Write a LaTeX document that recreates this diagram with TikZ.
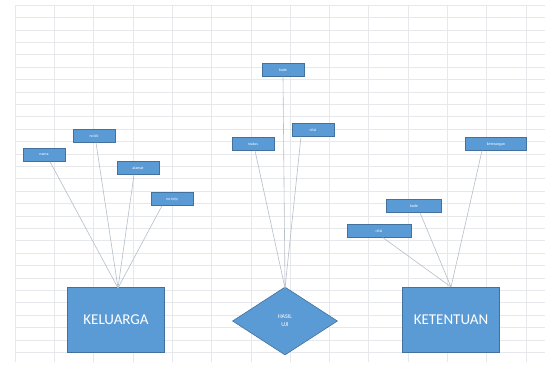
\documentclass[tikz,border=0pt]{standalone}
\usepackage{fontspec}
\setmainfont{Carlito}
\usetikzlibrary{shapes.geometric}
\definecolor{boxblue}{HTML}{5B9BD5}
\definecolor{boxedge}{HTML}{41719C}
\definecolor{gridc}{HTML}{E6E8EC}
\definecolor{linkc}{HTML}{B4BFCA}
\tikzset{
  entity/.style={draw=boxedge, line width=0.6pt, fill=boxblue, text=white, minimum width=97pt, minimum height=65pt, font=\fontsize{15}{17}\selectfont, inner sep=0pt},
  attr/.style={draw=boxedge, line width=0.4pt, fill=boxblue, text=white, minimum width=42pt, minimum height=13pt, font=\fontsize{4}{5}\selectfont, inner sep=0pt},
  rel/.style={diamond, draw=boxedge, line width=0.6pt, fill=boxblue, text=white, minimum width=105pt, minimum height=68pt, aspect=1.55, inner sep=0pt, font=\fontsize{6}{8}\selectfont, align=center},
  link/.style={draw=linkc, line width=0.6pt},
  gridline/.style={draw=gridc, line width=0.5pt}
}
\begin{document}
\begin{tikzpicture}[x=1pt, y=-1pt]
\useasboundingbox (0,0) rectangle (545,374);
\fill[white] (0,0) rectangle (545,374);
% spreadsheet grid
\foreach \gx in {15,54.3,...,545} {\draw[gridline] (\gx,5) -- (\gx,362);}
\foreach \gy in {5,17.4,...,362} {\draw[gridline] (15,\gy) -- (545,\gy);}

% main shapes
\node[entity] (kel) at (116,320) {KELUARGA};
\node[rel] (uji) at (285,321) {HASIL\\UJI};
\node[entity] (ket) at (451,320) {KETENTUAN};

% attributes
\node[attr] (a1) at (44,155) {nama};
\node[attr] (a2) at (94,136) {no kk};
\node[attr] (a3) at (138,168) {alamat};
\node[attr] (a4) at (172,199) {no telp};
\node[attr] (b1) at (283,70) {kode};
\node[attr] (b2) at (253,144) {status};
\node[attr] (b3) at (313,130) {nilai};
\node[attr, minimum width=61pt] (c1) at (496,144) {keterangan};
\node[attr, minimum width=55pt] (c2) at (414,206) {kode};
\node[attr, minimum width=64pt] (c3) at (379,231) {nilai};

\coordinate (kt) at (118,288);
\coordinate (ut) at (285,288);
\coordinate (rt) at (451,287);

\draw[link] ([xshift=6pt]a1.south) -- (kt);
\draw[link] ([xshift=2pt]a2.south) -- (kt);
\draw[link] ([xshift=-4pt]a3.south) -- (kt);
\draw[link] ([xshift=-10pt]a4.south) -- (kt);
\draw[link] (b1.south) -- (ut);
\draw[link] ([xshift=2pt]b2.south) -- (ut);
\draw[link] ([xshift=-12pt]b3.south) -- (ut);
\draw[link] ([xshift=-14pt]c1.south) -- (rt);
\draw[link] ([xshift=6pt]c2.south) -- (rt);
\draw[link] ([xshift=4pt]c3.south) -- (rt);
\end{tikzpicture}
\end{document}
